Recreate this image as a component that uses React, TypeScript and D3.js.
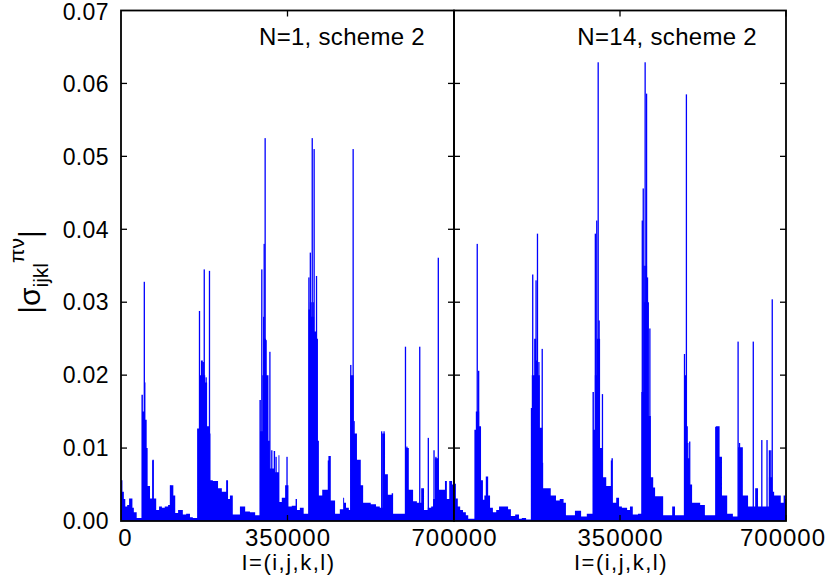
import React from "react";
import * as d3 from "d3";

// ---- data (I in thousands, value |sigma|) ----
const panelLabels = ["N=1, scheme 2", "N=14, scheme 2"];
const yTickValues = [0, 0.01, 0.02, 0.03, 0.04, 0.05, 0.06, 0.07];
const xTickValues = [0, 350000, 700000];
const xTitle = "I=(i,j,k,l)";

const n1Base: [number, number][] = [
  [0, 0.0056], [3, 0.004], [6, 0.003], [9, 0.002], [13, 0.0022], [17, 0.0031], [21, 0.0031],
  [24, 0.0018], [27, 0.0012], [33, 0.0004], [43, 0.0173], [46, 0.015], [50, 0.0139], [54, 0.01],
  [56, 0.0048], [61, 0.0031], [66, 0.0084], [69, 0.0031], [74, 0.0015], [80, 0.002], [86, 0.0018],
  [92, 0.002], [99, 0.0022], [104, 0.0049], [110, 0.0035], [114, 0.0011], [120, 0.0015],
  [130, 0.0009], [137, 0.001], [145, 0.0005], [151, 0.0004], [160, 0.0127], [164, 0.02],
  [168, 0.022], [172, 0.02], [177, 0.019], [181, 0.013], [185, 0.012], [188, 0.0056],
  [193, 0.0055], [204, 0.0045], [212, 0.004], [221, 0.0056], [225, 0.003], [229, 0.0035],
  [235, 0.0009], [250, 0.002], [261, 0.0013], [271, 0.0012], [282, 0.0008], [291, 0.0166],
  [294, 0.0123], [297, 0.02], [300, 0.025], [305, 0.02], [310, 0.011], [313, 0.0072],
  [321, 0.0096], [324, 0.0067], [331, 0.009], [333, 0.0026], [338, 0.0032], [345, 0.0049],
  [352, 0.002], [359, 0.0021], [367, 0.003], [370, 0.0015], [376, 0.0018], [384, 0.001],
  [394, 0.029], [397, 0.03], [401, 0.028], [406, 0.026], [410, 0.025], [414, 0.011],
  [416, 0.0035], [423, 0.0043], [431, 0.0043], [436, 0.0089], [441, 0.0028], [450, 0.001],
  [460, 0.0016], [467, 0.0032], [469, 0.0025], [473, 0.0018], [479, 0.0015], [482, 0.02],
  [489, 0.012], [496, 0.0084], [504, 0.0049], [509, 0.0025], [517, 0.0025], [525, 0.0023],
  [536, 0.002], [544, 0.0018], [549, 0.012], [555, 0.0064], [561, 0.0036], [569, 0.0038],
  [572, 0.001], [582, 0.001], [593, 0.001], [598, 0.01], [601, 0.01], [605, 0.0043],
  [614, 0.0027], [622, 0.0025], [631, 0.0045], [637, 0.0015], [645, 0.0018], [652, 0.002],
  [656, 0.003], [660, 0.0086], [664, 0.0086], [668, 0.0043], [673, 0.0043], [681, 0.0055],
  [685, 0.003], [690, 0.0055], [696, 0.005], [700, 0.005],
];

const n1Spikes: [number, number][] = [
  [49, 0.0328], [50, 0.019], [67, 0.0083], [104, 0.0049], [165, 0.0288], [170, 0.0218],
  [173, 0.0218], [175, 0.0345], [179, 0.0197], [186, 0.0343], [296, 0.0345], [300, 0.028],
  [301, 0.038], [303, 0.0525], [305, 0.0248], [313, 0.0232], [317, 0.0097], [326, 0.0088],
  [349, 0.0088], [395, 0.0334], [398, 0.0368], [402, 0.0525], [404, 0.03], [406, 0.051],
  [411, 0.0336], [436, 0.0083], [483, 0.0214], [488, 0.051], [490, 0.0137], [493, 0.0097],
  [499, 0.0079], [548, 0.0123], [553, 0.0123], [598, 0.0239], [601, 0.0102], [628, 0.0239],
  [646, 0.0114], [658, 0.0097], [662, 0.0088], [667, 0.0361],
];

const n14Base: [number, number][] = [
  [0, 0.0051], [4, 0.0031], [8, 0.002], [13, 0.0015], [19, 0.0012], [25, 0.0008], [30, 0.0003],
  [43, 0.0125], [46, 0.015], [53, 0.013], [57, 0.0056], [61, 0.0029], [64, 0.0035], [67, 0.0061],
  [72, 0.0035], [76, 0.0018], [82, 0.0012], [89, 0.0015], [95, 0.002], [108, 0.002],
  [114, 0.0016], [120, 0.0007], [129, 0.0009], [137, 0.0003], [143, 0.0004], [152, 0.0002],
  [162, 0.0155], [164, 0.02], [169, 0.025], [173, 0.022], [177, 0.02], [181, 0.0128],
  [186, 0.008], [188, 0.0045], [198, 0.0045], [204, 0.0035], [215, 0.0028], [223, 0.003],
  [231, 0.0025], [236, 0.0008], [255, 0.0014], [268, 0.0006], [280, 0.001], [292, 0.0177],
  [295, 0.0125], [297, 0.02], [301, 0.025], [308, 0.01], [314, 0.006], [321, 0.0048],
  [332, 0.0086], [335, 0.0025], [342, 0.0032], [348, 0.002], [354, 0.0018], [365, 0.0015],
  [371, 0.002], [377, 0.0009], [388, 0.001], [395, 0.0177], [400, 0.03], [403, 0.035],
  [407, 0.03], [411, 0.0144], [415, 0.006], [420, 0.0046], [424, 0.0034], [432, 0.0034],
  [441, 0.0008], [449, 0.0008], [460, 0.002], [466, 0.0008], [477, 0.0008], [486, 0.02],
  [490, 0.013], [493, 0.0086], [497, 0.005], [502, 0.0025], [508, 0.0025], [519, 0.0022],
  [529, 0.0008], [552, 0.013], [557, 0.013], [560, 0.0088], [565, 0.0035], [576, 0.001],
  [588, 0.0006], [599, 0.0101], [605, 0.0101], [609, 0.0035], [620, 0.002], [628, 0.002],
  [635, 0.0045], [641, 0.002], [649, 0.002], [653, 0.002], [660, 0.002], [664, 0.006],
  [671, 0.004], [675, 0.0035], [683, 0.0035], [689, 0.0025], [695, 0.0035], [698, 0.003],
  [700, 0.003],
];

const n14Spikes: [number, number][] = [
  [49, 0.038], [52, 0.0206], [166, 0.0338], [173, 0.033], [176, 0.0394], [179, 0.0218],
  [186, 0.0236], [298, 0.0394], [301, 0.0412], [304, 0.0629], [306, 0.0275], [313, 0.0174],
  [332, 0.0083], [397, 0.0412], [399, 0.0456], [401, 0.035], [403, 0.0629], [406, 0.0586],
  [408, 0.0334], [413, 0.0264], [486, 0.0229], [490, 0.0585], [493, 0.0107], [497, 0.0109],
  [552, 0.0129], [556, 0.0129], [599, 0.0246], [602, 0.0107], [631, 0.0246], [649, 0.0111],
  [660, 0.0111], [665, 0.0097], [668, 0.0097], [671, 0.0304],
];

// ---- layout ----
const W = 830;
const H = 578;
const TOP = 10.5;
const BOTTOM = 521;
const panels = [
  { x0: 121, x1: 454, base: n1Base, spikes: n1Spikes, label: panelLabels[0], showZero: true },
  { x0: 454, x1: 786, base: n14Base, spikes: n14Spikes, label: panelLabels[1], showZero: false },
];
const FONT = "'Liberation Sans', Arial, Helvetica, sans-serif";
const BLUE = "#0000ff";

export default function App() {
  const y = d3.scaleLinear().domain([0, 0.07]).range([BOTTOM, TOP]);
  return (
    <svg width={W} height={H} style={{ position: "absolute", left: 0, top: 0, background: "#fff" }}>
      <defs>
        {panels.map((p, i) => (
          <clipPath id={`clip${i}`} key={i}>
            <rect x={p.x0} y={TOP} width={p.x1 - p.x0} height={BOTTOM - TOP} />
          </clipPath>
        ))}
      </defs>
      {panels.map((p, i) => {
        const x = d3.scaleLinear().domain([0, 700000]).range([p.x0, p.x1]);
        const area = d3
          .area<[number, number]>()
          .x((d) => x(d[0] * 1000))
          .y0(y(0))
          .y1((d) => y(d[1]))
          .curve(d3.curveStepAfter);
        return (
          <g key={i}>
            <g clipPath={`url(#clip${i})`}>
              <path d={area(p.base) || ""} fill={BLUE} />
              {p.spikes.map((s, k) => (
                <rect
                  key={k}
                  x={x(s[0] * 1000) - 0.65}
                  width={1.3}
                  y={y(s[1])}
                  height={y(0) - y(s[1])}
                  fill={BLUE}
                />
              ))}
            </g>
            <rect x={p.x0} y={TOP} width={p.x1 - p.x0} height={BOTTOM - TOP} fill="none" stroke="#000" strokeWidth={1.8} />
            {yTickValues.slice(1, -1).map((t) => (
              <g key={t}>
                <line x1={p.x0} x2={p.x0 + 6} y1={y(t)} y2={y(t)} stroke="#000" strokeWidth={1.3} />
                <line x1={p.x1} x2={p.x1 - 6} y1={y(t)} y2={y(t)} stroke="#000" strokeWidth={1.3} />
              </g>
            ))}
            {xTickValues.slice(1).map((t) => (
              <g key={t}>
                <line x1={x(t)} x2={x(t)} y1={TOP} y2={TOP + 6} stroke="#000" strokeWidth={1.3} />
                <line x1={x(t)} x2={x(t)} y1={BOTTOM} y2={BOTTOM - 6} stroke="#000" strokeWidth={1.3} />
              </g>
            ))}
            {xTickValues
              .filter((t) => t !== 0 || p.showZero)
              .map((t) => (
                <text
                  key={t}
                  x={(t === 0 ? x(t) + 4 : x(t)) + (i === 1 && t === 700000 ? -3 : 0.5)}
                  y={546}
                  textAnchor="middle"
                  fontFamily={FONT}
                  fontSize={24}
                  letterSpacing={1}
                  fill="#000"
                >
                  {d3.format("d")(t)}
                </text>
              ))}
            <text
              x={(p.x0 + p.x1) / 2 + 1}
              y={570}
              textAnchor="middle"
              fontFamily={FONT}
              fontSize={22}
              letterSpacing={1.5}
              fill="#000"
            >
              {xTitle}
            </text>
            <text x={p.x1 - 29} y={45} textAnchor="end" fontFamily={FONT} fontSize={24} letterSpacing={0.3} fill="#000">
              {p.label}
            </text>
          </g>
        );
      })}
      {yTickValues.map((t) => (
        <text key={t} x={109} y={y(t) + (t === 0.07 ? 1.5 : 0)} dy="0.36em" textAnchor="end" fontFamily={FONT} fontSize={23} letterSpacing={0.4} fill="#000">
          {d3.format(".2f")(t)}
        </text>
      ))}
      <text transform="translate(40,272) rotate(-90)" textAnchor="middle" fontFamily={FONT} fill="#000">
        <tspan fontSize={30}>|σ</tspan>
        <tspan fontSize={21} dy={8}>ijkl</tspan>
        <tspan fontSize={21} dy={-24}>πν</tspan>
        <tspan fontSize={30} dy={16}>|</tspan>
      </text>
    </svg>
  );
}
